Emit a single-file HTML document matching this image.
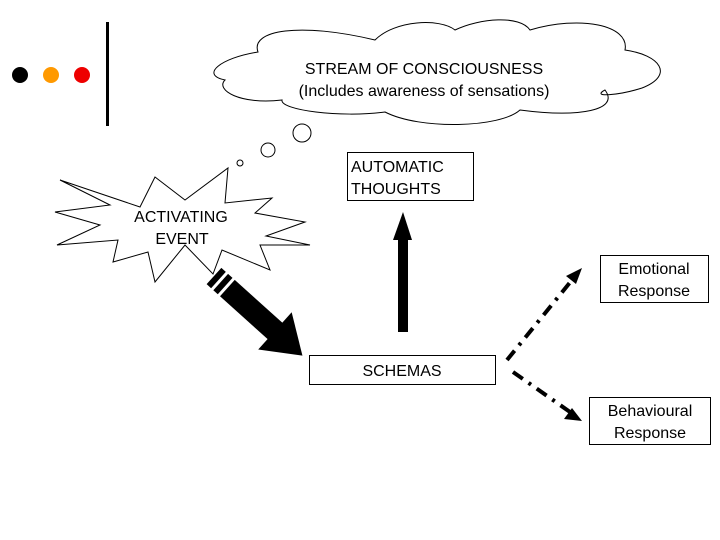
<!DOCTYPE html>
<html><head><style>
body{margin:0;width:720px;height:540px;background:#fff;overflow:hidden}
svg{display:block}
text{font-family:"Liberation Sans",sans-serif;font-size:16px;fill:#000}
</style></head><body>
<svg width="720" height="540" viewBox="0 0 720 540">
<circle cx="20" cy="75" r="8" fill="#000"/>
<circle cx="51" cy="75" r="8" fill="#f90"/>
<circle cx="82" cy="75" r="8" fill="#e00"/>
<rect x="106" y="22" width="3" height="104" fill="#000"/>
<g fill="#fff" stroke="#000" stroke-width="1">
<path d="M258,52 C250,30 300,22 375,40 C395,20 440,18 455,30 C480,18 520,15 530,30 C580,15 630,25 625,50 C660,55 675,75 642,88 C620,95 590,98 605,90 C620,110 580,118 520,110 C500,128 420,130 385,112 C340,118 280,110 282,100 C240,105 215,90 225,80 C200,75 220,58 258,52 Z"/>
</g>
<text x="424" y="74" text-anchor="middle">STREAM OF CONSCIOUSNESS</text>
<text x="424" y="96" text-anchor="middle">(Includes awareness of sensations)</text>
<g fill="#fff" stroke="#000">
<ellipse cx="302" cy="133" rx="9" ry="9"/>
<ellipse cx="268" cy="150" rx="7" ry="7"/>
<circle cx="240" cy="163" r="3"/>
</g>
<polygon fill="#fff" stroke="#000" stroke-width="1" points="60,180 140,207 155,177 185,200 228,168 225,203 272,198 255,213 305,222 266,236 310,245 260,245 270,270 222,250 213,274 185,245 155,282 148,252 113,262 118,240 57,245 100,225 55,212 110,205"/>
<text x="181" y="222" text-anchor="middle">ACTIVATING</text>
<text x="182" y="244" text-anchor="middle">EVENT</text>
<rect x="347.5" y="152.5" width="126" height="48" fill="#fff" stroke="#000"/>
<text x="351" y="172">AUTOMATIC</text>
<text x="351" y="194">THOUGHTS</text>
<rect x="398" y="238" width="10" height="94" fill="#000"/>
<polygon points="393,240 412,240 403,212" fill="#000"/>
<g transform="translate(214,276) rotate(42)">
<rect x="0" y="-11" width="6" height="22" fill="#000"/>
<rect x="9" y="-11" width="6" height="22" fill="#000"/>
<rect x="18" y="-11" width="66" height="22" fill="#000"/>
<polygon points="82,-25 82,25 119,0" fill="#000"/>
</g>
<rect x="309.5" y="355.5" width="186" height="29" fill="#fff" stroke="#000"/>
<text x="402" y="376" text-anchor="middle">SCHEMAS</text>
<g stroke="#000" stroke-width="4" stroke-dasharray="12,7,3,7" fill="none">
<line x1="507" y1="360" x2="572" y2="280"/>
<line x1="513" y1="372" x2="570" y2="412"/>
</g>
<polygon points="582,268 566,276 576,284" fill="#000"/>
<polygon points="582,421 564,419 572,408" fill="#000"/>
<rect x="600.5" y="255.5" width="108" height="47" fill="#fff" stroke="#000"/>
<text x="654" y="274" text-anchor="middle">Emotional</text>
<text x="654" y="296" text-anchor="middle">Response</text>
<rect x="589.5" y="397.5" width="121" height="47" fill="#fff" stroke="#000"/>
<text x="650" y="416" text-anchor="middle">Behavioural</text>
<text x="650" y="438" text-anchor="middle">Response</text>
</svg>
</body></html>
